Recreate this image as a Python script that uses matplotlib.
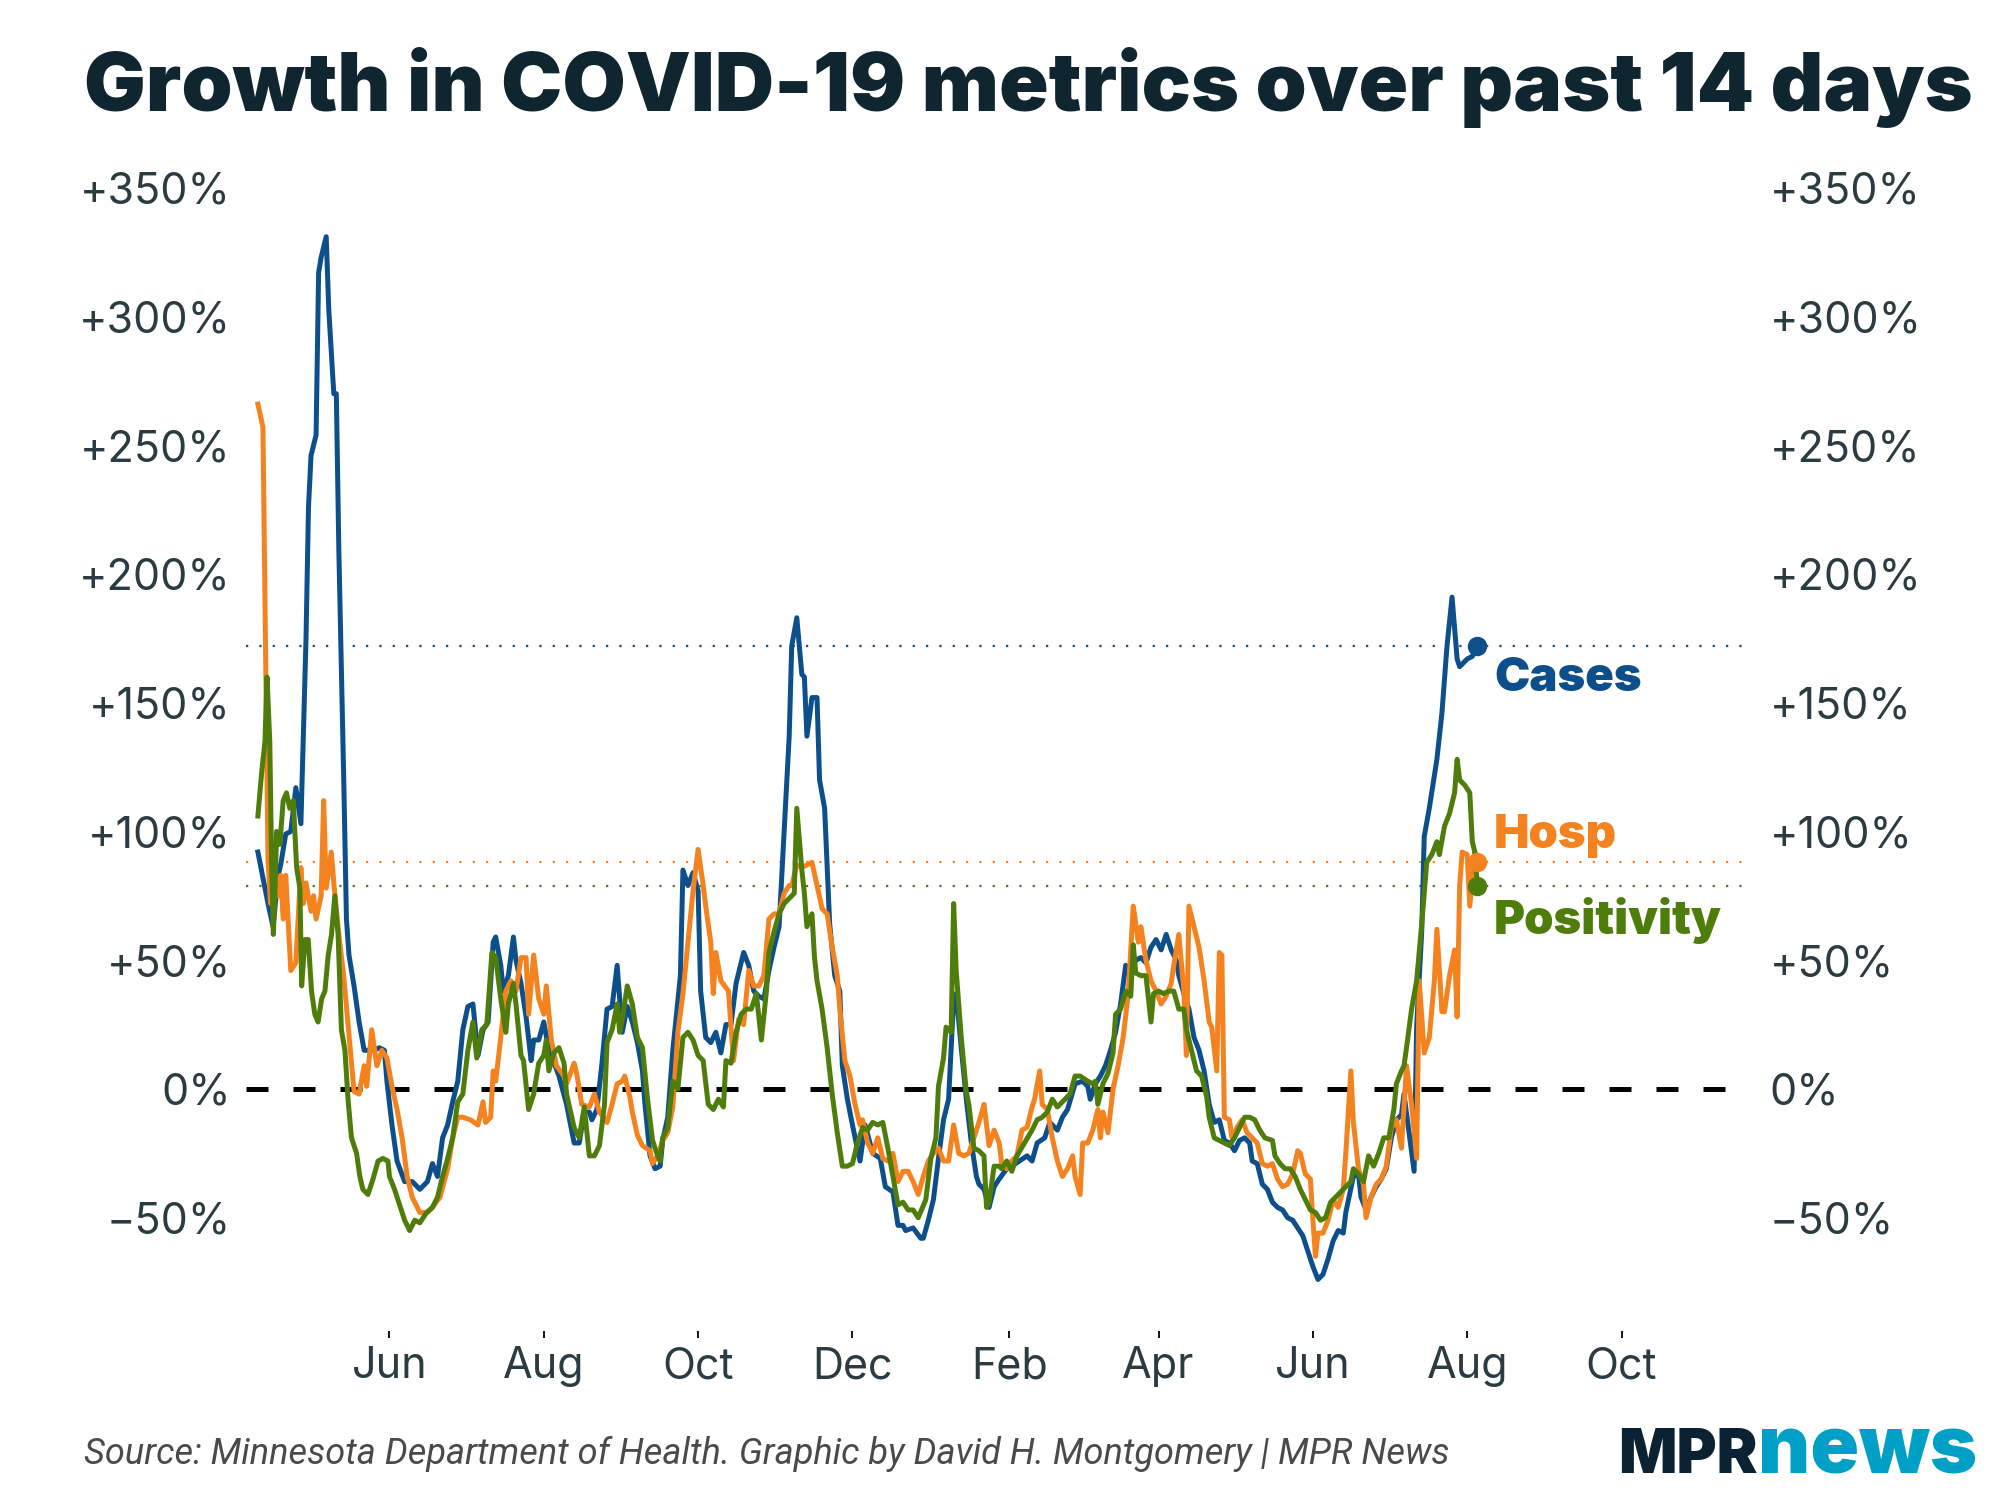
import matplotlib
matplotlib.use("Agg")
import matplotlib.pyplot as plt
import matplotlib.dates as mdates
import pandas as pd

# day 0 = 2020-04-10, values = % change over past 14 days
start = pd.Timestamp("2020-04-10")

cases = [(0,92),(2,82),(4,72),(6,63),(8,83),(9,87),(11,99),(13,100),(15,117),(17,103),(19,174),(20,226),(21,246),(23,254),(24,317),(25,323),(27,331),(28,303),(30,270),(31,270),(32,209),(34,117),(35,66),(36,52),(38,40),(40,26),(42,15),(46,15),(48,16),(50,15),(51,3),(53,-14),(55,-28),(58,-36),(61,-36),(64,-39),(67,-36),(69,-29),(71,-34),(73,-19),(75,-14),(77,-5),(79,3),(81,23),(83,32),(85,33),(87,13),(89,23),(91,26),(93,57),(94,59),(96,48),(97,38),(99,44),(101,59),(102,50),(104,41),(106,28),(108,11),(109,19),(111,19),(113,26),(115,15),(116,13),(119,5),(122,-6),(125,-21),(127,-21),(129,-9),(131,-9),(132,-12),(134,-8),(136,10),(138,31),(140,32),(142,48),(144,22),(146,32),(148,26),(150,18),(152,7),(153,-6),(155,-26),(157,-31),(159,-30),(160,-20),(162,-11),(164,15),(167,44),(168,85),(170,79),(172,84),(174,77),(175,38),(177,20),(179,18),(181,22),(183,14),(185,25),(187,25),(189,41),(192,53),(194,48),(196,38),(198,36),(200,35),(202,46),(204,55),(206,63),(208,100),(210,137),(211,172),(213,183),(215,161),(216,160),(217,137),(219,152),(221,152),(222,120),(224,109),(226,64),(228,44),(230,38),(231,9),(233,-4),(235,-14),(238,-28),(240,-14),(243,-25),(246,-27),(248,-38),(251,-40),(253,-53),(255,-53),(256,-55),(259,-54),(262,-58),(263,-58),(265,-51),(267,-43),(269,-27),(271,-12),(273,-4),(275,35),(276,37),(278,16),(280,-4),(282,-21),(284,-34),(285,-37),(287,-39),(289,-46),(291,-38),(293,-35),(296,-31),(298,-30),(301,-28),(304,-26),(306,-28),(308,-21),(311,-19),(313,-13),(316,-16),(318,-11),(320,-8),(323,2),(326,3),(328,1),(329,-4),(331,2),(333,5),(335,9),(337,15),(339,22),(341,33),(343,48),(345,46),(347,50),(349,51),(351,49),(353,55),(355,58),(357,54),(359,60),(361,54),(363,50),(364,44),(366,37),(368,31),(370,20),(372,15),(374,7),(376,-6),(378,-13),(380,-12),(382,-20),(384,-21),(386,-24),(388,-20),(390,-19),(392,-21),(393,-28),(395,-29),(397,-37),(399,-39),(401,-44),(403,-46),(405,-47),(407,-50),(409,-51),(411,-54),(413,-57),(415,-63),(417,-69),(419,-74),(421,-72),(423,-66),(425,-59),(427,-55),(429,-56),(430,-48),(433,-34),(435,-33),(436,-42),(438,-47),(440,-42),(442,-38),(444,-35),(446,-31),(448,-19),(450,-12),(452,-10),(453,-2),(455,-17),(457,-32),(458,24),(460,61),(461,98),(463,109),(466,128),(468,146),(470,172),(472,191),(474,167),(475,164),(478,167),(480,168),(482,172)]

hosp = [(0,266),(2,257),(3,174),(4,89),(5,72),(6,89),(8,75),(9,83),(10,66),(11,83),(13,46),(15,49),(17,86),(18,72),(19,80),(21,69),(22,75),(23,66),(25,75),(26,112),(27,78),(29,92),(30,80),(32,60),(34,43),(36,21),(38,-1),(40,-2),(42,9),(43,1),(44,12),(45,23),(47,9),(49,15),(51,12),(53,1),(55,-8),(57,-19),(59,-34),(61,-42),(64,-48),(67,-48),(69,-46),(72,-42),(75,-31),(77,-19),(79,-11),(81,-11),(84,-12),(87,-14),(89,-5),(90,-13),(92,-11),(93,7),(94,3),(96,20),(98,38),(100,42),(102,38),(104,51),(106,51),(107,29),(109,52),(111,35),(113,29),(114,40),(116,19),(118,9),(121,5),(122,2),(125,10),(126,6),(128,-6),(131,-7),(133,-2),(135,-9),(138,-13),(140,-6),(142,2),(144,3),(145,5),(147,-3),(148,-9),(150,-18),(152,-22),(155,-24),(156,-29),(158,-26),(160,-20),(162,-17),(164,-7),(166,22),(168,37),(170,57),(172,77),(174,93),(176,79),(177,71),(179,57),(180,37),(181,53),(183,42),(186,38),(187,24),(188,11),(190,27),(192,25),(194,46),(196,40),(198,40),(200,44),(202,66),(204,68),(206,68),(208,76),(210,79),(211,79),(213,87),(215,86),(217,87),(219,88),(221,79),(223,70),(225,68),(227,55),(229,44),(230,31),(232,11),(234,5),(236,-6),(238,-14),(239,-12),(241,-21),(243,-25),(245,-19),(247,-27),(249,-28),(251,-25),(253,-36),(255,-32),(257,-32),(259,-36),(261,-41),(263,-34),(265,-28),(267,-25),(269,-23),(271,-28),(273,-28),(275,-14),(277,-25),(279,-26),(281,-25),(283,-19),(285,-13),(287,-6),(289,-22),(291,-16),(293,-21),(294,-29),(296,-31),(298,-28),(300,-26),(302,-16),(304,-15),(306,-7),(307,-4),(309,7),(310,-6),(312,-8),(314,-19),(316,-28),(318,-34),(320,-31),(322,-26),(323,-34),(325,-41),(326,-21),(328,-21),(330,-16),(332,-8),(333,-19),(334,-9),(336,-17),(338,0),(340,9),(342,20),(344,37),(345,54),(346,71),(348,57),(349,63),(351,50),(353,42),(355,38),(357,33),(359,36),(361,41),(362,48),(364,60),(366,38),(367,13),(368,71),(370,63),(372,55),(374,42),(376,26),(377,24),(379,7),(380,53),(381,52),(382,-11),(384,-12),(385,-19),(387,-15),(389,-12),(391,-17),(393,-19),(395,-21),(397,-29),(399,-30),(401,-29),(403,-35),(405,-38),(407,-37),(409,-33),(411,-24),(412,-25),(414,-33),(416,-35),(417,-51),(418,-65),(419,-56),(421,-56),(423,-51),(425,-43),(427,-46),(429,-39),(430,-25),(432,7),(433,-13),(435,-31),(437,-37),(438,-50),(440,-42),(442,-37),(444,-35),(446,-30),(448,-15),(450,-12),(452,-23),(454,9),(456,-6),(458,-27),(459,42),(461,14),(463,20),(465,42),(466,62),(468,30),(469,30),(471,44),(473,54),(474,28),(475,79),(476,92),(478,91),(479,71),(481,92),(482,88)]

positivity = [(0,106),(1.5,123),(2.8,135),(3.6,160),(4.7,135),(5.4,89),(6.1,60),(6.7,75),(7.4,100),(8.7,95),(10,112),(11.3,115),(12.6,109),(14,112),(15.3,86),(16.6,78),(17.3,40),(18.6,58),(19.9,58),(21.2,38),(22.5,29),(23.8,26),(25.2,35),(26.5,38),(27.8,52),(29.1,60),(30.4,75),(31.7,60),(33,23),(34.4,15),(35.7,-5),(37,-19),(39,-25),(40.3,-34),(41.5,-39),(43.5,-41),(45.5,-35),(47.5,-28),(49.4,-27),(51.4,-28),(52,-34),(54,-39),(56,-45),(58,-51),(60,-55),(62,-51),(64,-52),(66.7,-48),(69,-46),(71,-42),(73,-34),(75,-27),(77,-19),(79,-5),(81,-2),(83,15),(85,26),(86.5,12),(88.5,23),(90.5,25),(92.5,53),(94,51),(96,35),(98,22),(99,33),(101,41),(102,33),(104,13),(105,11),(107,-8),(109,-2),(111,10),(113,13),(114,19),(115,7),(117,14),(119,16),(121,10),(122,-2),(125,-15),(127,-19),(129,-7),(131,-26),(133,-26),(135,-22),(137,-6),(138,18),(140,23),(142,33),(143,22),(144,27),(146,40),(148,33),(150,20),(152,16),(154,-4),(156,-20),(158,-26),(159,-28),(160,-19),(162,-15),(164,3),(166,0),(168,20),(170,22),(172,19),(174,13),(176,11),(178,-6),(180,-8),(182,-4),(184,-7),(185,11),(187,10),(189,22),(191,29),(193,31),(195,31),(197,37),(199,19),(201,38),(202,53),(204,61),(206,68),(208,72),(210,74),(212,76),(213,109),(215,85),(216,76),(217,63),(219,68),(220,51),(221,42),(223,31),(225,16),(227,-2),(229,-17),(231,-30),(233,-30),(235,-29),(237,-21),(239,-15),(241,-16),(243,-13),(245,-14),(247,-13),(249,-23),(251,-34),(253,-45),(255,-44),(257,-47),(259,-47),(261,-50),(264,-43),(266,-27),(268,-19),(269,1),(271,12),(272,24),(274,22),(275,72),(276,46),(278,20),(280,-1),(281,-6),(283,-23),(285,-24),(287,-26),(288,-46),(289,-44),(291,-30),(293,-30),(294,-31),(296,-28),(298,-32),(300,-26),(303,-21),(306,-16),(308,-12),(310,-11),(312,-9),(314,-4),(316,-7),(319,-4),(321,-2),(323,5),(325,5),(328,3),(330,2),(331,3),(332,-6),(334,2),(336,6),(338,14),(339,29),(341,31),(343,38),(345,36),(346,56),(347,45),(349,44),(351,44),(353,26),(354,37),(356,38),(358,37),(360,38),(362,38),(364,31),(366,31),(367,23),(369,15),(371,7),(373,5),(375,-3),(376,-11),(378,-19),(380,-20),(382,-21),(384,-22),(386,-19),(388,-15),(390,-11),(392,-11),(394,-12),(396,-16),(398,-19),(401,-20),(402,-26),(404,-29),(406,-31),(408,-31),(410,-34),(412,-39),(414,-43),(416,-47),(418,-48),(420,-51),(422,-50),(424,-44),(426,-42),(428,-40),(430,-38),(432,-36),(433,-31),(435,-33),(437,-36),(439,-26),(441,-30),(443,-25),(445,-19),(447,-19),(449,-8),(450,2),(452,7),(453,9),(454,16),(456,31),(458,42),(460,64),(462,88),(464,91),(466,96),(467,91),(469,102),(471,107),(473,115),(474,128),(475,120),(477,118),(479,115),(480,96),(481,92),(482,79)]

names = ["Cases", "Hosp", "Positivity"]
colors = ["#0d4f8b", "#f4831f", "#4f7d0b"]
label_dy = [-24, 19, -25]  # points, label offset from end dot

yticks = [-50, 0, 50, 100, 150, 200, 250, 300, 350]
ytick_labels = ["\u221250%", "0%", "+50%", "+100%", "+150%", "+200%", "+250%", "+300%", "+350%"]

text_col = "#2a3b41"
plt.rcParams["font.family"] = ["Inter", "DejaVu Sans"]

fig = plt.figure(figsize=(20, 15), dpi=100)
ax = fig.add_axes([0.123, 0.1127, 0.748, 0.7707])

ax.axhline(0, color="black", lw=3.6, ls=(0, (4.4, 5)), zorder=2)

for name, pts, color, dy in zip(names, [cases, hosp, positivity], colors, label_dy):
    days = [p[0] for p in pts]
    vals = [p[1] for p in pts]
    dates = start + pd.to_timedelta(days, unit="D")
    ax.axhline(vals[-1], color=color, lw=1.6, ls=(0, (1, 5)), zorder=1)
    ax.plot(dates, vals, color=color, lw=3.6, zorder=3)
    ax.plot(dates[-1], vals[-1], "o", ms=13, color=color, zorder=4)
    ax.annotate(name, (dates[-1], vals[-1]), xytext=(12, dy), textcoords="offset points",
                ha="left", va="center", fontsize=34, fontweight="black", color=color)

ax.set_xlim(start - pd.Timedelta(days=4.7), start + pd.Timedelta(days=586.6))
ax.set_ylim(-94, 355)
ax.xaxis.set_major_locator(mdates.MonthLocator(bymonth=[2, 4, 6, 8, 10, 12]))
ax.xaxis.set_major_formatter(mdates.DateFormatter("%b"))
ax.set_yticks(yticks)
ax.set_yticklabels(ytick_labels)
ax.tick_params(axis="y", length=0, labelsize=31, labelcolor=text_col, pad=11)
ax.tick_params(axis="x", length=5, width=1.3, color="black", labelsize=31, labelcolor=text_col, pad=6)
for s in ax.spines.values():
    s.set_visible(False)

ax2 = ax.twinx()
ax2.set_ylim(ax.get_ylim())
ax2.set_yticks(yticks)
ax2.set_yticklabels(ytick_labels)
ax2.tick_params(axis="y", length=0, labelsize=31, labelcolor=text_col, pad=20)
for s in ax2.spines.values():
    s.set_visible(False)

fig.text(0.042, 0.942, "Growth in COVID-19 metrics over past 14 days", fontsize=59,
         fontweight="black", color="#0f2630", va="center", ha="left")
fig.text(0.042, 0.0307, "Source: Minnesota Department of Health. Graphic by David H. Montgomery | MPR News",
         fontsize=26, style="italic", color="#4a4a4a", va="center", ha="left",
         family=["Roboto", "DejaVu Sans"])

# logo
t_news = fig.text(0.9885, 0.018, "news", fontsize=58, fontweight="black", color="#00a0c6",
                  ha="right", va="baseline")
fig.canvas.draw()
bb = t_news.get_window_extent()
fig.text(bb.x0 / fig.bbox.width, 0.018, "MPR", fontsize=44, fontweight="black", color="#0b2233",
         ha="right", va="baseline")

fig.savefig("out.png", dpi=100)
